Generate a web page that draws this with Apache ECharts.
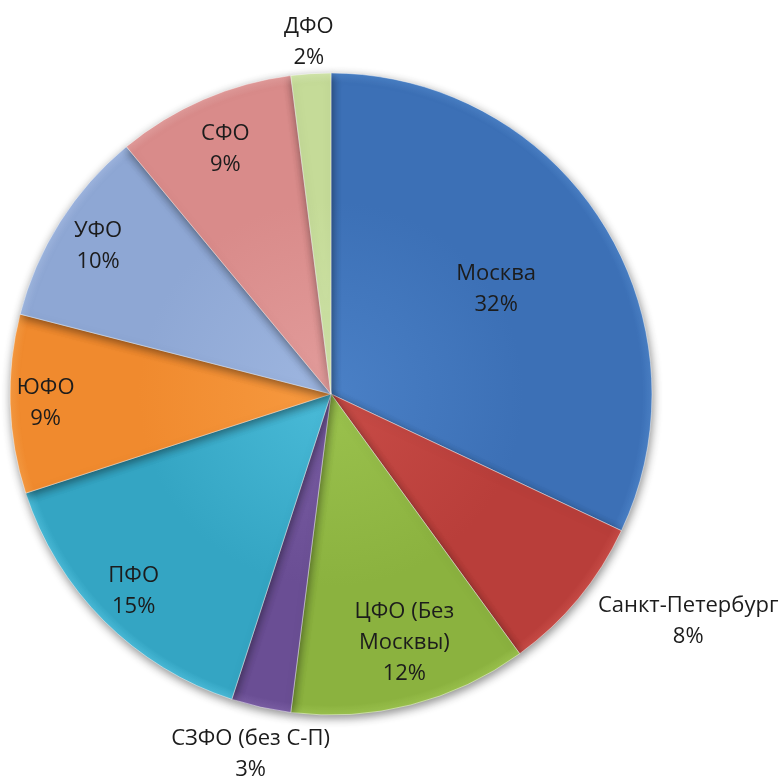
<!DOCTYPE html>
<html><head><meta charset="utf-8">
<script src="https://cdn.jsdelivr.net/npm/echarts@6/dist/echarts.min.js"></script>
<style>html,body{margin:0;padding:0;background:#fff}#c{width:782px;height:776px}</style>
</head><body><div id="c"></div>
<script>
const categories = ['Москва', 'Санкт-Петербург', 'ЦФО (Без\nМосквы)', 'СЗФО (без С-П)', 'ПФО', 'ЮФО', 'УФО', 'СФО', 'ДФО'];
const values = [32, 8, 12, 3, 15, 9, 10, 9, 2];
const colors = ['#3C70B6', '#B93E3A', '#8BB23F', '#6A4E94', '#34A5C3', '#F08A2E', '#8EA7D4', '#D98B8A', '#C5DB98'];
const lightColors = ['#4A80C6', '#C84C47', '#9BC24E', '#7A5EA4', '#4ABBD8', '#F79A40', '#9EB6E0', '#E29C9B', '#D2E6AA'];
// label placement style (radius factor of the pie radius, angle nudge in degrees)
const labelDist = [0.6, 1.31, 0.80, 1.14, 0.86, 0.88, 0.85, 0.82, 1.09];
const labelShift = [0, 7.1, 2, 0, 0, 0, 0, 0, 0];

const CX = 331, CY = 394, R = 321;
const chart = echarts.init(document.getElementById('c'));

const mainData = categories.map((n, i) => ({
  name: n, value: values[i],
  itemStyle: {
    color: new echarts.graphic.RadialGradient(CX, CY, R, [
      {offset: 0, color: lightColors[i]},
      {offset: 0.6, color: colors[i]},
      {offset: 0.97, color: colors[i]},
      {offset: 1, color: lightColors[i]}
    ], true)
  }
}));

const series = [{
  type: 'pie', center: [CX, CY], radius: [0, R], startAngle: 90, clockwise: true,
  data: mainData, label: {show: false}, labelLine: {show: false}, silent: true,
  itemStyle: {borderColor: 'rgba(255,255,255,0.45)', borderWidth: 1,
    shadowBlur: 10, shadowColor: 'rgba(0,0,0,0.45)', shadowOffsetY: 3, shadowOffsetX: 1},
  emphasis: {disabled: true}, animation: false
}];

categories.forEach((n, i) => {
  series.push({
    type: 'pie', center: [CX, CY], radius: [0, 2 * labelDist[i] * R],
    startAngle: 90 + labelShift[i], clockwise: true, silent: true, animation: false,
    avoidLabelOverlap: false, emphasis: {disabled: true},
    itemStyle: {color: 'rgba(0,0,0,0)', borderWidth: 0},
    labelLine: {show: false},
    data: categories.map((m, j) => ({
      name: m, value: values[j],
      label: {show: j === i}
    })),
    label: {
      position: 'inside', formatter: '{b}\n{d}%', color: '#1c1c1c',
      fontFamily: 'Open Sans', fontSize: 22, lineHeight: 31, align: 'center'
    }
  });
});

chart.setOption({backgroundColor: '#fff', animation: false, series});
</script></body></html>
